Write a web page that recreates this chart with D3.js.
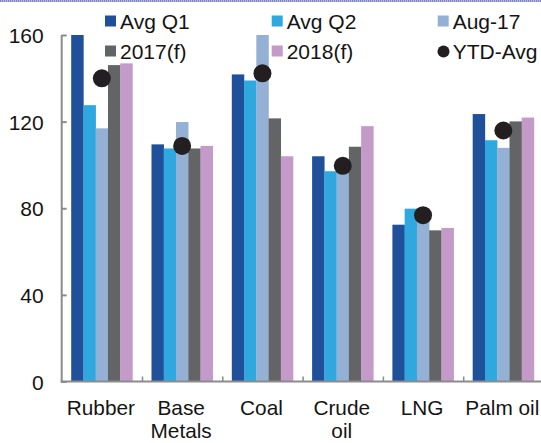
<!DOCTYPE html>
<html>
<head>
<meta charset="utf-8">
<script src="https://cdn.jsdelivr.net/npm/d3@7/dist/d3.min.js"></script>
<style>
  html, body { margin: 0; padding: 0; background: #fff; }
  svg { display: block; font-family: "Liberation Sans", Arial, sans-serif; }
</style>
</head>
<body>
<svg id="chart" width="541" height="443"></svg>
<script>
// Commodity price indices by category
const categories = ["Rubber", "Base\nMetals", "Coal", "Crude\noil", "LNG", "Palm oil"];
const seriesNames = ["Avg Q1", "Avg Q2", "Aug-17", "2017(f)", "2018(f)"];
const seriesColors = ["#21509b", "#2ea8de", "#94b0d4", "#636466", "#c49ac8"];
const avgQ1  = [160, 109.5, 141.8, 104.0, 72.4, 123.5];
const avgQ2  = [127.6, 107.6, 139.0, 97.1, 79.8, 111.4];
const aug17  = [116.9, 119.8, 160, 98.0, 79.5, 107.9];
const f2017  = [146.1, 107.6, 121.5, 108.4, 69.8, 120.1];
const f2018  = [146.9, 108.8, 104.0, 117.9, 70.9, 121.9];
const ytdAvg = [140.0, 108.8, 142.3, 99.6, 76.8, 115.9];
const yTicks = [0, 40, 80, 120, 160];

const seriesValues = [avgQ1, avgQ2, aug17, f2017, f2018];

const svg = d3.select("#chart");
const axisColor = "#8b8b8d";
const textColor = "#141414";

// dotted rule along the top edge
const topRule = svg.append("g");
topRule.append("rect").attr("x", 0).attr("y", 0).attr("width", 541).attr("height", 2).attr("fill", "#b9bde3");
topRule.append("line").attr("x1", 0).attr("x2", 541).attr("y1", 1).attr("y2", 1)
  .attr("stroke", "#7b82c4").attr("stroke-width", 2).attr("stroke-dasharray", "1,1");

const x0 = 61.7, xEnd = 543.5;
const y = d3.scaleLinear().domain([0, 160]).range([381.5, 35]);
const x = d3.scaleBand().domain(d3.range(categories.length)).range([x0, xEnd]).padding(0);
const bw = x.bandwidth();
const xs = d3.scaleBand().domain(d3.range(seriesNames.length)).range([9.5, bw - 9.5]).padding(0);

// bars
const groups = svg.append("g").selectAll("g")
  .data(categories.map((c, i) => i))
  .join("g")
  .attr("transform", i => `translate(${x(i)},0)`);

groups.selectAll("rect")
  .data(i => seriesValues.map((vals, s) => ({ s, v: vals[i] })))
  .join("rect")
  .attr("x", d => xs(d.s))
  .attr("y", d => y(d.v))
  .attr("width", xs.bandwidth() + 0.2)
  .attr("height", d => y(0) - y(d.v))
  .attr("fill", d => seriesColors[d.s]);

// YTD average markers
svg.append("g").selectAll("circle")
  .data(ytdAvg)
  .join("circle")
  .attr("cx", (d, i) => x(i) + xs(2) + xs.bandwidth() / 2)
  .attr("cy", d => y(d))
  .attr("r", 9)
  .attr("fill", "#231f20");

// y axis
const yAxis = svg.append("g").attr("transform", `translate(${x0},0)`)
  .call(d3.axisLeft(y).tickValues(yTicks).tickSize(-5).tickPadding(0).tickFormat(d3.format("d")));
yAxis.select(".domain").remove();
yAxis.selectAll(".tick line").attr("stroke", axisColor).attr("stroke-width", 2);
yAxis.selectAll(".tick text")
  .attr("x", -18).attr("dy", "0.36em")
  .attr("font-size", 21).attr("fill", textColor)
  .attr("font-family", "'Liberation Sans', Arial, sans-serif");
svg.append("line").attr("x1", x0).attr("x2", x0).attr("y1", y(160)).attr("y2", y(0) + 1)
  .attr("stroke", axisColor).attr("stroke-width", 2);

// x axis
const xb = d3.scaleLinear().domain([0, categories.length]).range([x0, xEnd]);
const xAxis = svg.append("g").attr("transform", `translate(0,${y(0)})`)
  .call(d3.axisBottom(xb).tickValues(d3.range(1, categories.length)).tickSize(-5).tickFormat(""));
xAxis.select(".domain").remove();
xAxis.selectAll(".tick line").attr("stroke", axisColor).attr("stroke-width", 1.5);
svg.append("line").attr("x1", x0 - 1).attr("x2", 541).attr("y1", y(0)).attr("y2", y(0))
  .attr("stroke", axisColor).attr("stroke-width", 2);

// category labels
svg.append("g").selectAll("text")
  .data(categories)
  .join("text")
  .attr("x", (d, i) => x(i) + bw / 2 - 1)
  .attr("y", 415)
  .attr("text-anchor", "middle")
  .attr("font-size", 20.8)
  .attr("fill", textColor)
  .each(function (d) {
    const lines = d.split("\n");
    const t = d3.select(this);
    lines.forEach((ln, k) => {
      t.append("tspan").attr("x", t.attr("x")).attr("dy", k === 0 ? 0 : 23).text(ln);
    });
  });

// legend
const legendItems = seriesNames.map((n, i) => ({ name: n, color: seriesColors[i], type: "rect" }))
  .concat([{ name: "YTD-Avg", color: "#231f20", type: "circle" }]);
const colX = [105, 271.7, 437.7];
const rowY = [21, 51];
const legend = svg.append("g");
legendItems.forEach((it, i) => {
  const cx = colX[i % 3], cy = rowY[Math.floor(i / 3)];
  if (it.type === "rect") {
    legend.append("rect").attr("x", cx).attr("y", cy - 5.5).attr("width", 11).attr("height", 11).attr("fill", it.color);
  } else {
    legend.append("circle").attr("cx", cx + 5.8).attr("cy", cy + 0.5).attr("r", 6).attr("fill", it.color);
  }
  legend.append("text").attr("x", cx + 15).attr("y", cy).attr("dy", "0.36em")
    .attr("font-size", 21).attr("fill", textColor).text(it.name);
});
</script>
</body>
</html>
